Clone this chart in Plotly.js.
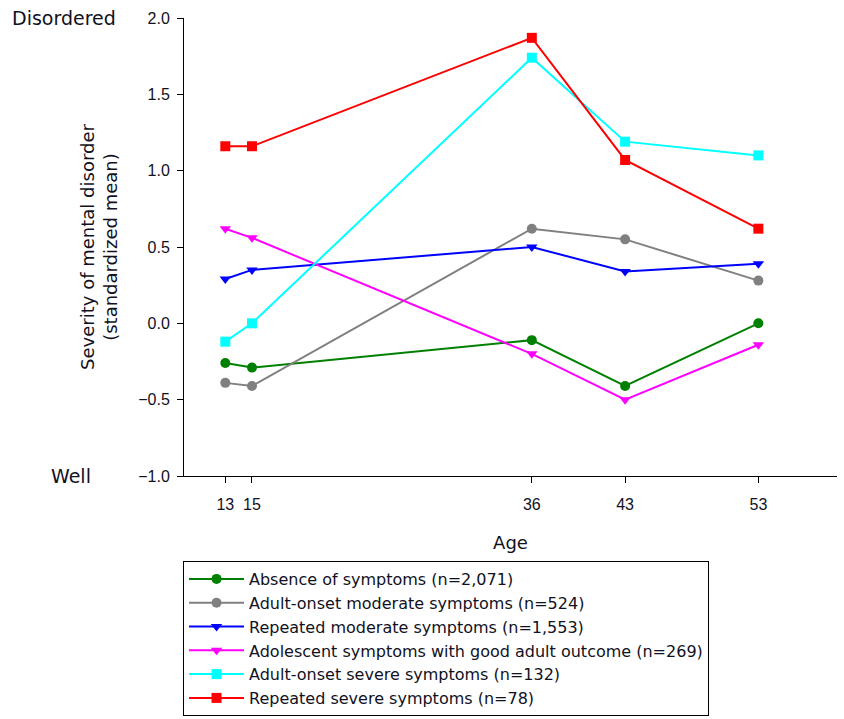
<!DOCTYPE html>
<html>
<head>
<meta charset="utf-8">
<script src="https://cdn.plot.ly/plotly-3.0.1.min.js"></script>
<style>html,body{margin:0;padding:0;background:#fff;}#chart{width:844px;height:719px;}</style>
</head>
<body>
<div id="chart"></div>
<script>
const ages = [13, 15, 36, 43, 53];
const seriesNames = [
  "Absence of symptoms (n=2,071)",
  "Adult-onset moderate symptoms (n=524)",
  "Repeated moderate symptoms (n=1,553)",
  "Adolescent symptoms with good adult outcome (n=269)",
  "Adult-onset severe symptoms (n=132)",
  "Repeated severe symptoms (n=78)"
];
const absence = [-0.26, -0.29, -0.11, -0.41, 0.00];
const adultOnsetModerate = [-0.39, -0.41, 0.62, 0.55, 0.28];
const repeatedModerate = [0.29, 0.35, 0.50, 0.34, 0.39];
const adolescentGood = [0.62, 0.56, -0.20, -0.50, -0.14];
const adultOnsetSevere = [-0.12, 0.00, 1.74, 1.19, 1.10];
const repeatedSevere = [1.16, 1.16, 1.87, 1.07, 0.62];
const yTickVals = [-1.0, -0.5, 0.0, 0.5, 1.0, 1.5, 2.0];

const seriesValues = [absence, adultOnsetModerate, repeatedModerate, adolescentGood, adultOnsetSevere, repeatedSevere];
const colors = ["#008000", "#808080", "#0000ff", "#ff00ff", "#00ffff", "#ff0000"];
const symbols = ["circle", "circle", "triangle-down", "triangle-down", "square", "square"];

const FONT = "DejaVu Sans, Liberation Sans, Arial, sans-serif";
const TXT = "#111122";

const traces = seriesValues.map((vals, i) => ({
  type: "scatter",
  mode: "lines+markers",
  x: ages,
  y: vals,
  name: seriesNames[i],
  line: {color: colors[i], width: 2},
  marker: {color: colors[i], symbol: symbols[i], size: 10}
}));

const layout = {
  width: 844, height: 719,
  margin: {l: 184, r: 7, t: 18, b: 243, autoexpand: false},
  paper_bgcolor: "#fff", plot_bgcolor: "#fff",
  showlegend: true,
  font: {family: FONT, color: TXT, size: 16},
  xaxis: {
    range: [9.9, 58.9],
    tickvals: ages,
    ticktext: ages.map(String),
    showline: true, linecolor: "#000", linewidth: 1,
    ticks: "outside", ticklen: 6, tickcolor: "#000", tickwidth: 1,
    showgrid: false, zeroline: false,
    ticklabelstandoff: 8,
    tickfont: {family: "Liberation Sans, Arial, sans-serif", size: 16, color: TXT},
    title: {text: "Age", font: {family: FONT, size: 18, color: TXT}, standoff: 24}
  },
  yaxis: {
    range: [-1, 2],
    tickvals: yTickVals,
    tickformat: ".1f",
    showline: true, linecolor: "#000", linewidth: 1,
    ticks: "outside", ticklen: 6, tickcolor: "#000", tickwidth: 1,
    showgrid: false, zeroline: false,
    ticklabelstandoff: 4,
    tickfont: {family: "Liberation Sans, Arial, sans-serif", size: 16, color: TXT},
    title: {text: "Severity of mental disorder<br>(standardized mean)", font: {family: FONT, size: 18, color: TXT}, standoff: 15}
  },
  legend: {
    x: -0.0015, y: -0.1856, xanchor: "left", yanchor: "top",
    bordercolor: "#000", borderwidth: 1, bgcolor: "#fff",
    font: {family: FONT, size: 16, color: TXT},
    tracegroupgap: 0,
    itemwidth: 55
  },
  annotations: [
    {text: "Disordered", xref: "paper", yref: "y", x: -0.101, y: 2.0, xanchor: "right", yanchor: "middle", showarrow: false, font: {family: FONT, size: 19, color: TXT}},
    {text: "Well", xref: "paper", yref: "y", x: -0.139, y: -1.0, xanchor: "right", yanchor: "middle", showarrow: false, font: {family: FONT, size: 19, color: TXT}}
  ]
};

Plotly.newPlot("chart", traces, layout, {displayModeBar: false, staticPlot: true});
</script>
</body>
</html>
